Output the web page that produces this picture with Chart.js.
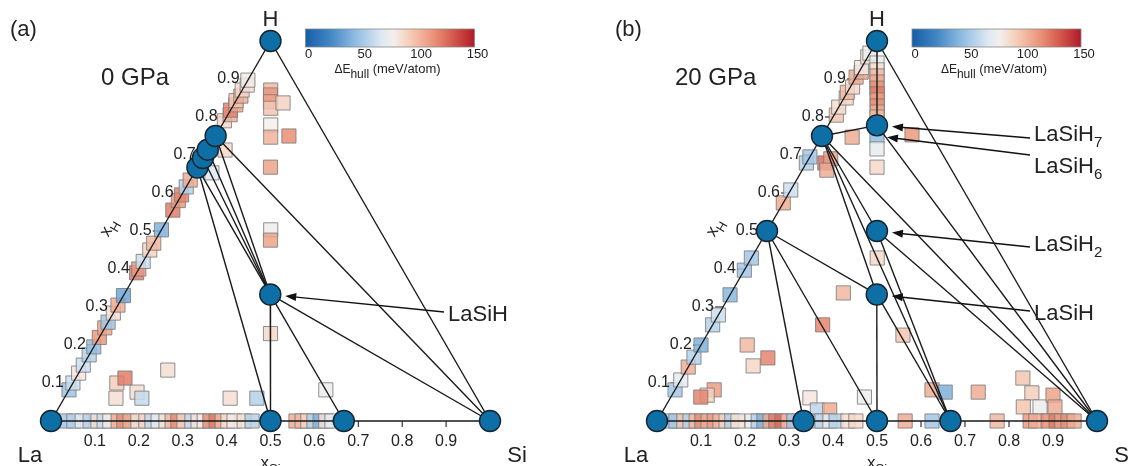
<!DOCTYPE html>
<html>
<head>
<meta charset="utf-8">
<script src="https://cdn.jsdelivr.net/npm/chart.js@4/dist/chart.umd.min.js"></script>
<style>
  html, body { margin: 0; padding: 0; background: #fff; }
  body { width: 1129px; height: 466px; position: relative; overflow: hidden; }
  .panel { position: absolute; top: 0; height: 466px; }
  #panelA { left: 0; width: 575px; }
  #panelB { left: 575px; width: 554px; }
</style>
</head>
<body>
<div class="panel" id="panelA"><canvas id="chartA"></canvas></div>
<div class="panel" id="panelB"><canvas id="chartB"></canvas></div>
<script>
// axis ticks shared by both triangles
const edgeTicks = [0.1, 0.2, 0.3, 0.4, 0.5, 0.6, 0.7, 0.8, 0.9];
const edgeTickLabels = ['0.1', '0.2', '0.3', '0.4', '0.5', '0.6', '0.7', '0.8', '0.9'];
const cbarTicks = [0, 50, 100, 150];
const eMax = 150;

// ---- 0 GPa ----
// stable phases: La, Si, H, LaSi, LaSi2, LaH2, La4H9, La2H5, LaH3, LaSiH
const aStableSi = [0, 1, 0, 0.5, 0.667, 0, 0, 0, 0, 0.333];
const aStableH  = [0, 0, 1, 0, 0, 0.667, 0.692, 0.714, 0.75, 0.333];
const aTies = [[0, 1], [0, 2], [1, 2], [5, 3], [5, 9], [6, 9], [7, 9], [8, 9], [8, 1], [9, 3], [9, 4], [9, 1]];

// metastable structures (xSi, xH, energy above hull in meV/atom)
const aSqSi = [
  0, 0, 0, 0, 0, 0, 0, 0, 0, 0, 0, 0, 0, 0, 0, 0, 0, 0, 0, 0, 0, 0, 0,
  0, 0.005, 0, 0.005, 0, 0.005, 0, 0.005, 0,
  0.065, 0.071, 0.08, 0.089, 0.111, 0.127, 0.166, 0.249, 0.262, 0.385, 0.11, 0.167,
  0.199, 0.1, 0.112, 0.158, 0.118, 0.177, 0.378, 0.439, 0.585, 0.04, 0.04,
  0.034, 0.052, 0.071, 0.089, 0.107, 0.121, 0.134, 0.153, 0.166, 0.18, 0.198, 0.216, 0.23, 0.244,
  0.262, 0.276, 0.289, 0.303, 0.321, 0.335, 0.349, 0.362, 0.376, 0.39, 0.403, 0.417, 0.44, 0.458,
  0.558, 0.572, 0.585, 0.599, 0.613, 0.626, 0.64
];
const aSqH = [
  0.082, 0.1, 0.126, 0.147, 0.174, 0.195, 0.22, 0.245, 0.26, 0.284, 0.305, 0.33, 0.39, 0.4, 0.42, 0.45, 0.468, 0.503, 0.555, 0.58, 0.595, 0.616, 0.634,
  0.79, 0.806, 0.818, 0.832, 0.843, 0.855, 0.871, 0.884, 0.897,
  0.871, 0.858, 0.84, 0.823, 0.779, 0.747, 0.668, 0.503, 0.476, 0.23, 0.837, 0.75,
  0.134, 0.1, 0.113, 0.076, 0.06, 0.06, 0.06, 0.06, 0.082, 0.713, 0.653,
  0, 0, 0, 0, 0, 0, 0, 0, 0, 0, 0, 0, 0, 0,
  0, 0, 0, 0, 0, 0, 0, 0, 0, 0, 0, 0, 0, 0,
  0, 0, 0, 0, 0, 0, 0
];
const aSqE = [
  48, 62, 82, 62, 55, 45, 112, 108, 50, 85, 105, 35, 120, 112, 62, 90, 100, 40, 120, 112, 118, 55, 105,
  88, 105, 118, 108, 95, 105, 88, 85, 80,
  100, 112, 108, 95, 78, 102, 108, 75, 108, 88, 90, 115,
  85, 92, 120, 86, 85, 60, 85, 55, 75, 88, 68,
  50, 55, 70, 55, 85, 60, 80, 105, 115, 105, 85, 90, 60, 70,
  85, 100, 115, 90, 60, 85, 80, 115, 120, 100, 85, 80, 85, 55,
  105, 100, 90, 55, 40, 85, 70
];

// ---- 20 GPa ----
// stable phases: La, Si, H, La2Si, LaSi, LaSi2, LaH, LaH3, LaSiH, LaSiH2, LaSiH7
const bStableSi = [0, 1, 0, 0.333, 0.5, 0.667, 0, 0, 0.333, 0.25, 0.111];
const bStableH  = [0, 0, 1, 0, 0, 0, 0.5, 0.75, 0.333, 0.5, 0.778];
const bTies = [[0, 1], [0, 2], [1, 2], [6, 3], [6, 4], [6, 8], [7, 8], [7, 5], [8, 5], [8, 4],
  [7, 9], [9, 5], [9, 1], [7, 1], [7, 10], [10, 1], [2, 10]];

const bSqSi = [
  0, 0, 0, 0, 0, 0, 0, 0, 0, 0, 0, 0, 0, 0, 0.005, 0, 0.005, 0, 0.005, 0, 0.005, 0, 0, 0,
  0.042, 0.05, 0.056, 0.07, 0.203,
  0.029, 0.038, 0.046, 0.054, 0.062, 0.07, 0.078, 0.086, 0.094, 0.1, 0.125, 0.142, 0.166, 0.286,
  0.255, 0.446, 0.25, 0.105, 0.169, 0.146, 0.089, 0.08, 0.068, 0.317, 0.35, 0.378, 0.44,
  0.584, 0.617, 0.692, 0.775, 0.815, 0.814, 0.852, 0.866, 0.886,
  0.03, 0.043, 0.061, 0.075, 0.089, 0.102, 0.116, 0.13, 0.143, 0.157, 0.17, 0.184,
  0.216, 0.23, 0.243, 0.257, 0.27, 0.284, 0.298, 0.311,
  0.359, 0.375, 0.393, 0.407, 0.434, 0.452, 0.564, 0.625, 0.773,
  0.848, 0.861, 0.889, 0.907, 0.92, 0.934, 0.948
];
const bSqH = [
  0.082, 0.108, 0.142, 0.168, 0.2, 0.253, 0.279, 0.332, 0.397, 0.429, 0.574, 0.608, 0.679, 0.695, 0.805, 0.826, 0.85, 0.865, 0.879, 0.905, 0.918, 0.93, 0.958, 0.968,
  0.679, 0.69, 0.66, 0.747, 0.753,
  0.942, 0.924, 0.908, 0.892, 0.876, 0.861, 0.845, 0.829, 0.813, 0.8, 0.75, 0.716, 0.668, 0.429,
  0.337, 0.226, 0.253, 0.2, 0.166, 0.145, 0.082, 0.068, 0.063, 0.061, 0.029, 0.029, 0.063,
  0.082, 0.076, 0.076, 0.113, 0.074, 0.037, 0.037, 0.068, 0.037,
  0, 0, 0, 0, 0, 0, 0, 0, 0, 0, 0, 0,
  0, 0, 0, 0, 0, 0, 0, 0,
  0, 0, 0, 0, 0, 0, 0, 0, 0,
  0, 0, 0, 0, 0, 0, 0
];
const bSqE = [
  50, 70, 105, 55, 40, 55, 62, 42, 50, 50, 105, 62, 55, 50, 95, 85, 90, 100, 88, 105, 108, 80, 85, 75,
  125, 110, 105, 105, 112,
  75, 85, 100, 105, 115, 120, 110, 115, 105, 100, 45, 72, 88, 88,
  100, 95, 118, 100, 118, 88, 110, 90, 118, 82, 58, 105, 75,
  105, 40, 105, 95, 92, 95, 75, 108, 105,
  55, 50, 95, 55, 100, 115, 105, 110, 100, 90, 55, 85,
  72, 55, 40, 105, 120, 125, 100, 50,
  45, 60, 72, 55, 85, 88, 105, 50, 100,
  112, 105, 115, 120, 110, 115, 105
];

// diverging blue-white-red scale for the hull distance
const cmapStops = [
  [0.00, [22, 94, 168]],
  [0.15, [67, 135, 196]],
  [0.30, [146, 190, 226]],
  [0.45, [222, 232, 242]],
  [0.52, [243, 239, 236]],
  [0.62, [246, 204, 183]],
  [0.76, [234, 146, 120]],
  [0.88, [210, 86, 74]],
  [1.00, [176, 26, 42]]
];

function energyColor(e, alpha) {
  const t = Math.max(0, Math.min(1, e / eMax));
  let i = 0;
  while (i < cmapStops.length - 2 && t > cmapStops[i + 1][0]) i++;
  const [t0, c0] = cmapStops[i];
  const [t1, c1] = cmapStops[i + 1];
  const f = (t - t0) / (t1 - t0);
  const c = c0.map((v, k) => Math.round(v + (c1[k] - v) * f));
  return `rgba(${c[0]},${c[1]},${c[2]},${alpha})`;
}

// composition -> cartesian position in the triangle
function tern(xSi, xH) {
  return {x: xSi + xH / 2, y: xH};
}

const FONT = "'Liberation Sans', Arial, sans-serif";

// text with optional subscripts, parts = [[text, size, isSub], ...]
function richText(ctx, parts, x, y, align) {
  let w = 0;
  parts.forEach(p => { ctx.font = p[1] + 'px ' + FONT; w += ctx.measureText(p[0]).width; });
  let cx = align === 'center' ? x - w / 2 : (align === 'right' ? x - w : x);
  ctx.textAlign = 'left';
  ctx.textBaseline = 'alphabetic';
  parts.forEach(p => {
    ctx.font = p[1] + 'px ' + FONT;
    ctx.fillText(p[0], cx, y + (p[2] ? p[1] * 0.4 : 0));
    cx += ctx.measureText(p[0]).width;
  });
}

function arrow(ctx, x0, y0, x1, y1) {
  const ang = Math.atan2(y1 - y0, x1 - x0);
  const hl = 11, hw = 4;
  ctx.strokeStyle = '#111';
  ctx.fillStyle = '#111';
  ctx.lineWidth = 1.4;
  ctx.beginPath();
  ctx.moveTo(x0, y0);
  ctx.lineTo(x1 - Math.cos(ang) * hl * 0.8, y1 - Math.sin(ang) * hl * 0.8);
  ctx.stroke();
  ctx.beginPath();
  ctx.moveTo(x1, y1);
  ctx.lineTo(x1 - Math.cos(ang) * hl - Math.sin(ang) * hw, y1 - Math.sin(ang) * hl + Math.cos(ang) * hw);
  ctx.lineTo(x1 - Math.cos(ang) * hl + Math.sin(ang) * hw, y1 - Math.sin(ang) * hl - Math.cos(ang) * hw);
  ctx.closePath();
  ctx.fill();
}

// ticks, labels, colour bar and callouts around each triangle
const ternaryDecor = {
  id: 'ternaryDecor',
  beforeDatasetsDraw(chart, args, opts) {
    const {ctx, scales: {x, y}} = chart;
    ctx.save();
    ctx.strokeStyle = '#222';
    ctx.lineWidth = 1.1;
    edgeTicks.forEach(t => {
      const bx = x.getPixelForValue(t), by = y.getPixelForValue(0);
      ctx.beginPath(); ctx.moveTo(bx, by); ctx.lineTo(bx, by + 6); ctx.stroke();
      const lx = x.getPixelForValue(t / 2), ly = y.getPixelForValue(t);
      ctx.beginPath(); ctx.moveTo(lx, ly); ctx.lineTo(lx - 8, ly); ctx.stroke();
    });
    ctx.restore();
  },
  afterDatasetsDraw(chart, args, opts) {
    const {ctx, scales: {x, y}} = chart;
    const L = {x: x.getPixelForValue(0), y: y.getPixelForValue(0)};
    const R = {x: x.getPixelForValue(1), y: y.getPixelForValue(0)};
    const T = {x: x.getPixelForValue(0.5), y: y.getPixelForValue(1)};
    ctx.save();
    ctx.fillStyle = '#222';

    // tick labels
    ctx.font = '16px ' + FONT;
    edgeTicks.forEach((t, i) => {
      ctx.textAlign = 'center'; ctx.textBaseline = 'middle';
      ctx.fillText(edgeTickLabels[i], x.getPixelForValue(t), L.y + 21);
      ctx.textAlign = 'right';
      ctx.fillText(edgeTickLabels[i], x.getPixelForValue(t / 2) - 9, y.getPixelForValue(t));
    });

    // axis titles
    richText(ctx, [['x', 17, false], ['Si', 13, true]], (L.x + R.x) / 2, L.y + 47, 'center');
    ctx.save();
    ctx.translate(x.getPixelForValue(0.25) - 48, y.getPixelForValue(0.5) - 1);
    ctx.rotate(-Math.PI / 3);
    richText(ctx, [['x', 17, false], ['H', 13, true]], 0, 0, 'center');
    ctx.restore();

    // corner elements
    ctx.font = '22px ' + FONT;
    ctx.textAlign = 'center'; ctx.textBaseline = 'middle';
    ctx.fillText('H', T.x, T.y - 21);
    ctx.fillText('La', L.x - 21, L.y + 35);
    ctx.fillText('Si', R.x + 27, R.y + 35);

    // panel letter and pressure
    ctx.textAlign = 'left';
    ctx.font = '22px ' + FONT;
    ctx.fillText(opts.letter, opts.letterX, 30);
    ctx.font = '24px ' + FONT;
    ctx.fillText(opts.pressure, opts.pressureX, 78);

    // colour bar
    const cbX = T.x + 35, cbY = 29, cbW = 169, cbH = 18;
    const grad = ctx.createLinearGradient(cbX, 0, cbX + cbW, 0);
    cmapStops.forEach(s => grad.addColorStop(s[0], energyColor(s[0] * eMax, 1)));
    ctx.fillStyle = grad;
    ctx.fillRect(cbX, cbY, cbW, cbH);
    ctx.strokeStyle = '#888'; ctx.lineWidth = 0.8;
    ctx.strokeRect(cbX, cbY, cbW, cbH);
    ctx.fillStyle = '#222';
    ctx.font = '13px ' + FONT;
    ctx.textAlign = 'center'; ctx.textBaseline = 'middle';
    cbarTicks.forEach(v => ctx.fillText(String(v), cbX + 3 + v / eMax * cbW, cbY + 25));
    richText(ctx, [['\u0394E', 12, false], ['hull', 12, true], [' (meV/atom)', 13, false]], cbX + 82, cbY + 44, 'center');

    // callouts
    opts.callouts.forEach(c => {
      const px = x.getPixelForValue(c.xSi + c.xH / 2), py = y.getPixelForValue(c.xH);
      const dx = c.tailX - px, dy = c.tailY - py, d = Math.hypot(dx, dy);
      arrow(ctx, c.tailX, c.tailY, px + dx / d * c.gap, py + dy / d * c.gap);
      ctx.fillStyle = '#222';
      richText(ctx, c.text, c.tailX + 4, c.labelY + 8, 'left');
    });
    ctx.restore();
  }
};

function makePanel(canvasId, stableSi, stableH, ties, sqSi, sqH, sqE, padding, decor) {
  const stablePts = stableSi.map((s, i) => tern(s, stableH[i]));
  const datasets = [{
    label: 'stable',
    data: stablePts,
    pointRadius: 10.5,
    pointBackgroundColor: '#0d6fa5',
    pointBorderColor: '#16242e',
    pointBorderWidth: 1.4,
    showLine: false,
    clip: false,
    order: 1
  }];
  ties.forEach(([a, b]) => datasets.push({
    label: 'tie',
    data: [stablePts[a], stablePts[b]],
    showLine: true,
    borderColor: '#1a1a1a',
    borderWidth: 1.4,
    pointRadius: 0,
    clip: false,
    order: 2
  }));
  datasets.push({
    label: 'metastable',
    data: sqSi.map((s, i) => tern(s, sqH[i])),
    pointStyle: 'rect',
    pointRadius: 10,
    pointBackgroundColor: sqE.map(e => energyColor(e, 0.85)),
    pointBorderColor: 'rgba(125,125,125,0.85)',
    pointBorderWidth: 1,
    showLine: false,
    clip: false,
    order: 3
  });

  return new Chart(document.getElementById(canvasId), {
    type: 'scatter',
    data: {datasets},
    options: {
      responsive: true,
      maintainAspectRatio: false,
      devicePixelRatio: 1,
      animation: false,
      events: [],
      layout: {padding},
      scales: {
        x: {type: 'linear', min: 0, max: 1, display: false},
        y: {type: 'linear', min: 0, max: 1, display: false}
      },
      plugins: {
        legend: {display: false},
        tooltip: {enabled: false},
        ternaryDecor: decor
      }
    },
    plugins: [ternaryDecor]
  });
}

const sub = (name, n) => n ? [[name, 22, false], [n, 15, true]] : [[name, 22, false]];

makePanel('chartA', aStableSi, aStableH, aTies, aSqSi, aSqH, aSqE,
  {left: 51, right: 85, top: 41, bottom: 45},
  {
    letter: '(a)', letterX: 10, pressure: '0 GPa', pressureX: 101,
    callouts: [
      {xSi: 0.333, xH: 0.333, gap: 15, tailX: 444, tailY: 312, labelY: 313, text: sub('LaSiH')}
    ]
  });

makePanel('chartB', bStableSi, bStableH, bTies, bSqSi, bSqH, bSqE,
  {left: 82, right: 32, top: 41, bottom: 45},
  {
    letter: '(b)', letterX: 40, pressure: '20 GPa', pressureX: 100,
    callouts: [
      {xSi: 0.111, xH: 0.778, gap: 15, tailX: 455, tailY: 138, labelY: 133, text: sub('LaSiH', '7')},
      {xSi: 0.125, xH: 0.75, gap: 10, tailX: 455, tailY: 155, labelY: 165, text: sub('LaSiH', '6')},
      {xSi: 0.25, xH: 0.5, gap: 15, tailX: 455, tailY: 247, labelY: 243, text: sub('LaSiH', '2')},
      {xSi: 0.333, xH: 0.333, gap: 15, tailX: 455, tailY: 311, labelY: 312, text: sub('LaSiH')}
    ]
  });
</script>
</body>
</html>
